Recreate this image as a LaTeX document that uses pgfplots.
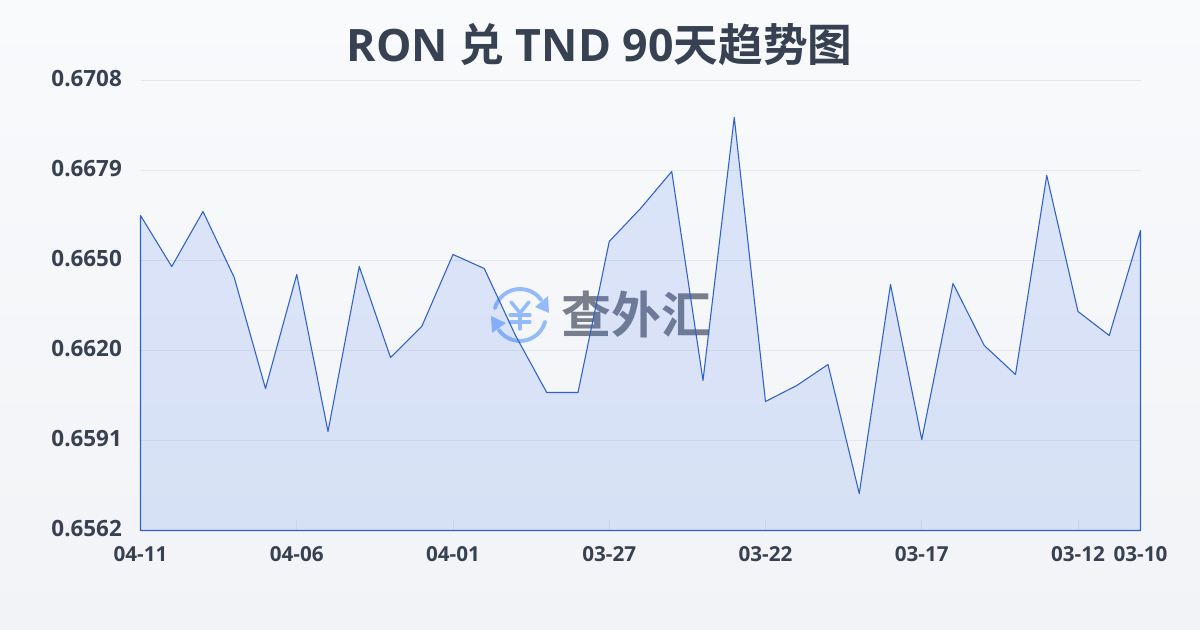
\documentclass[border=0pt]{standalone}
\usepackage{fontspec}
\usepackage{pgfplots}
\pgfplotsset{compat=1.18}
\usepackage{pgfplotstable}
\setmainfont{Open Sans}
\newfontfamily\cjk{Noto Sans CJK SC}[BoldFont={* Bold}]
\definecolor{ink}{HTML}{374151}
\definecolor{gridc}{HTML}{E5E7EB}
\definecolor{lineb}{HTML}{2F62C6}
\definecolor{fillb}{HTML}{2563EB}
\definecolor{logob}{HTML}{93BBFB}
\definecolor{wm}{HTML}{787E8C}
\definecolor{bgtop}{HTML}{F8FAFC}
\definecolor{bgbot}{HTML}{F1F3F6}
\pgfplotstableread{
idx val
0 0.66642
1 0.664765
2 0.66655
3 0.664408
4 0.660807
5 0.664506
6 0.659412
7 0.664765
8 0.661813
9 0.662819
10 0.665155
11 0.6647
12 0.662527
13 0.660677
14 0.660677
15 0.665576
16 0.666647
17 0.667848
18 0.661067
19 0.6696
20 0.660385
21 0.660904
22 0.661586
23 0.6574
24 0.664181
25 0.659152
26 0.664214
27 0.662202
28 0.661261
29 0.667718
30 0.663305
31 0.662527
32 0.665933
}\ratedata
\begin{document}
\begin{tikzpicture}[x=0.75pt,y=0.75pt]
\useasboundingbox (0,0) rectangle (1200,630);
\shade[top color=bgtop,bottom color=bgbot] (0,0) rectangle (1200,630);
% watermark logo, centred at (520,315) px from the top-left corner
\begin{scope}[shift={(520,315)},line width=2.9pt,logob,line cap=round]
\draw (165:26) arc[start angle=165,end angle=35,radius=26];
\fill (28,19) -- (29,2) -- (15,8) -- cycle;
\draw (-15:26) arc[start angle=-15,end angle=-145,radius=26];
\fill (-29,-1) -- (-28,-18) -- (-14,-8) -- cycle;
\draw[line width=2.6pt] (-9,13) -- (0,2) -- (9,13);
\draw[line width=2.6pt] (0,2) -- (0,-14);
\draw[line width=2.3pt] (-10,0) -- (10,0);
\draw[line width=2.3pt] (-10,-7) -- (10,-7);
\end{scope}
\node[text=wm,font=\cjk\bfseries\fontsize{37.5pt}{40pt}\selectfont,inner sep=0] at (636,315) {查外汇};
\node[text=ink,font=\bfseries\fontsize{33.5pt}{36pt}\selectfont,inner sep=0] at (599.5,585) {RON {\cjk\bfseries 兑} TND 90{\cjk\bfseries 天趋势图}};
\begin{axis}[
  at={(105.375pt,74.625pt)},anchor=south west,
  scale only axis,width=750pt,height=337.5pt,
  xmin=0,xmax=32,ymin=0.6562,ymax=0.6708,
  axis line style={draw=none},
  xtick pos=bottom,ytick pos=left,
  xtick={0,5,10,15,20,25,30,32},
  xticklabels={04-11,04-06,04-01,03-27,03-22,03-17,03-12,03-10},
  ytick={0.6562,0.65912,0.66204,0.66496,0.66788,0.6708},
  yticklabels={0.6562,0.6591,0.6620,0.6650,0.6679,0.6708},
  scaled y ticks=false,
  ymajorgrids,grid style={gridc,line width=0.75pt},
  tick style={gridc,line width=0.75pt},
  major tick length=7.5pt,
  ytick style={draw=none},
  y tick label style={font=\bfseries\fontsize{16.8pt}{18pt}\selectfont,text=ink,anchor=east,xshift=-10.5pt,yshift=1.5pt},
  x tick label style={font=\bfseries\fontsize{15.5pt}{17pt}\selectfont,text=ink,anchor=center,yshift=-17.5pt},
  clip=false,
]
\addplot[draw=lineb,line width=0.8pt,fill=fillb,fill opacity=0.13,draw opacity=1,line join=round] table[x=idx,y=val]{\ratedata} \closedcycle;
\end{axis}
\end{tikzpicture}
\end{document}
